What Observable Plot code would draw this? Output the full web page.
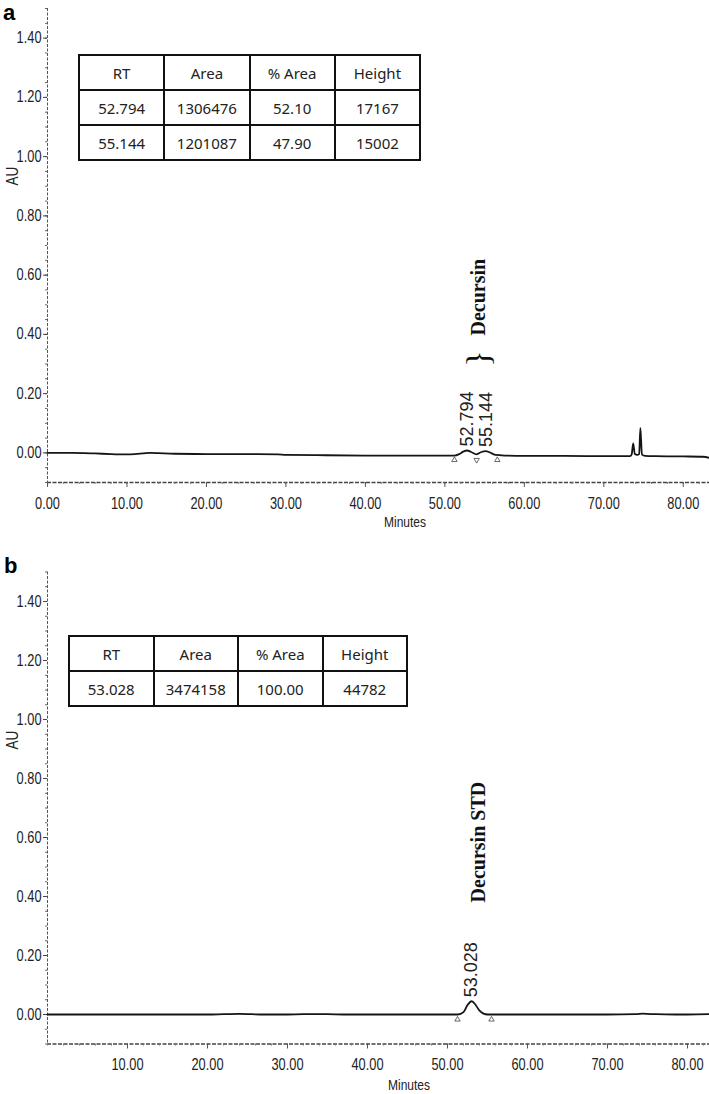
<!DOCTYPE html>
<html>
<head>
<meta charset="utf-8">
<script src="https://cdn.jsdelivr.net/npm/d3@7"></script>
<script src="https://cdn.jsdelivr.net/npm/@observablehq/plot@0.6"></script>
<style>
html,body{margin:0;padding:0;background:#fff;}
#wrap{position:relative;width:709px;height:1094px;overflow:hidden;background:#fff;}
.panel{position:absolute;left:0;}
.letter{position:absolute;font:bold 22px "Liberation Sans",Arial,sans-serif;color:#000;line-height:26px;height:26px;}
.au{position:absolute;font:16px "Liberation Sans",Arial,sans-serif;color:#222;transform:translate(-50%,-50%) rotate(-90deg) scale(0.85,1);white-space:nowrap;}
.minutes{position:absolute;font:15px "Liberation Sans",Arial,sans-serif;color:#222;transform:translate(-50%,-50%) scale(0.8,1);white-space:nowrap;}
table.res{position:absolute;border-collapse:collapse;font:15px "Noto Sans","Open Sans",sans-serif;color:#222;table-layout:fixed;}
table.res td{border:2px solid #111;text-align:center;padding:0;}
g[aria-label="peak-label"] text{letter-spacing:2px;}
</style>
</head>
<body>
<div id="wrap"></div>
<script>
// ---------- data ----------
// Panel a: sample chromatogram (time in minutes, absorbance in AU)
const timeA = [0, 3, 6, 8, 10, 11, 12, 13, 14, 16, 20, 25, 29, 30, 35, 40, 45, 50, 51.2, 51.8, 52.3, 52.794, 53.3, 54.0, 54.6, 55.144, 55.7, 56.4, 57.5, 60, 65, 70, 73.3, 73.5, 73.7, 73.9, 74.2, 74.45, 74.6, 74.8, 75.2, 76.5, 80, 82.5, 83.3];
const auA   = [0.000, 0.000, -0.002, -0.004, -0.005, -0.004, -0.002, 0.000, -0.001, -0.003, -0.004, -0.004, -0.005, -0.007, -0.008, -0.009, -0.009, -0.009, -0.009, -0.004, 0.004, 0.008, 0.003, -0.005, 0.003, 0.006, 0.001, -0.007, -0.009, -0.010, -0.010, -0.011, -0.011, -0.006, 0.032, -0.004, -0.007, -0.004, 0.084, -0.006, -0.010, -0.011, -0.012, -0.013, -0.017];
// Panel b: decursin standard
const timeB = [0, 10, 20, 22, 24, 25.5, 27, 30, 32, 35, 37, 45, 51.3, 52.0, 52.5, 53.028, 53.5, 54.0, 54.5, 55.0, 60, 70, 73.5, 74.5, 75, 76, 78.5, 80, 82.75];
const auB   = [0.000, 0.000, 0.000, 0.001, 0.002, 0.001, 0.000, 0.000, 0.001, 0.001, 0.000, 0.000, 0.000, 0.008, 0.032, 0.045, 0.033, 0.013, 0.003, 0.000, 0.000, 0.000, 0.001, 0.003, 0.002, 0.001, 0.000, 0.000, 0.001];

// peak labels (retention times) and apex levels
const peakLabelsA = ["52.794", "55.144"];
const peakTimesA  = [52.794, 55.144];
const peakApexA   = [0.008, 0.006];
const peakLabelsB = ["53.028"];
const peakTimesB  = [53.028];
const peakApexB   = [0.045];

// integration markers (start / valley / end)
const markTimesA  = [51.2, 54.0, 56.6];
const markRotateA = [0, 180, 0];
const markLevelA  = -0.024;
const markTimesB  = [51.25, 55.5];
const markRotateB = [0, 0];
const markLevelB  = -0.017;

// compound annotations
const annotTextA  = ["Decursin"];
const annotTimeA  = [54.2];
const annotLevelA = [0.396];
const braceTimeA  = [54.2];
const braceLevelA = [0.318];
const annotTextB  = ["Decursin STD"];
const annotTimeB  = [53.9];
const annotLevelB = [0.380];

// axis ticks
const yTicks  = [0, 0.2, 0.4, 0.6, 0.8, 1.0, 1.2, 1.4];
const yMinor  = d3.range(-0.1, 1.501, 0.05);
const xTicksA = [0, 10, 20, 30, 40, 50, 60, 70, 80];
const xTicksB = [10, 20, 30, 40, 50, 60, 70, 80];
const xMinor  = d3.range(0, 83, 2);

// result tables
const tableHeader = ["RT", "Area", "% Area", "Height"];
const tableRowsA = [["52.794", "1306476", "52.10", "17167"], ["55.144", "1201087", "47.90", "15002"]];
const tableRowsB = [["53.028", "3474158", "100.00", "44782"]];

// ---------- drawing ----------
const sans = "'Liberation Sans',Arial,sans-serif";
const ink = "#222";

function chromatogram(cfg) {
  const trace = cfg.times.map((t, i) => ({t, v: cfg.values[i]}));
  const peaks = cfg.peakLabels.map((s, i) => ({s, t: cfg.peakTimes[i], v: cfg.peakApex[i]}));
  const marks = cfg.markTimes.map((t, i) => ({t, r: cfg.markRotate[i]}));
  const annots = cfg.annotText.map((s, i) => ({s, t: cfg.annotTime[i], v: cfg.annotLevel[i]}));
  const braces = (cfg.braceTime || []).map((t, i) => ({t, v: cfg.braceLevel[i]}));
  const svg = Plot.plot({
    width: 709,
    height: 547,
    marginLeft: cfg.marginLeft,
    marginRight: 0,
    marginTop: cfg.marginTop,
    marginBottom: cfg.marginBottom,
    style: {fontFamily: sans, fontSize: "16px", color: ink, background: "#fff", overflow: "visible"},
    x: {domain: [0, cfg.xMax], label: null},
    y: {domain: [-0.1, 1.5], label: null},
    marks: [
      // axis lines (dotted, as in the scanned chromatogram)
      Plot.ruleX([0], {stroke: "#555", strokeWidth: 1, strokeDasharray: "3,1.5"}),
      Plot.ruleY([-0.1], {stroke: "#444", strokeWidth: 1.4, strokeDasharray: "4,1.5"}),
      Plot.axisY({ticks: yMinor, tickSize: 2, text: null, stroke: "#666", label: null}),
      Plot.axisY({ticks: yTicks, tickSize: 4, tickPadding: 2, tickFormat: d3.format(".2f"), stroke: "#444", fill: ink, fontSize: 16, label: null}),
      Plot.axisX({ticks: xMinor, tickSize: 2, text: null, stroke: "#777", label: null}),
      Plot.axisX({ticks: cfg.xTicks, tickSize: 5, tickPadding: 10, tickFormat: d3.format(".2f"), stroke: "#555", fill: ink, fontSize: 16, label: null}),
      // trace
      Plot.line(trace, {x: "t", y: "v", stroke: "#151515", strokeWidth: 1.8, curve: "monotone-x"}),
      // integration markers
      Plot.dot(marks, {x: "t", y: () => cfg.markLevel, symbol: "triangle", r: 2, rotate: "r", stroke: "#444", strokeWidth: 0.8, fill: "none"}),
      // retention time labels
      Plot.text(peaks, {x: "t", y: "v", text: "s", rotate: -90, textAnchor: "start", dy: -4, fontSize: 18, fontFamily: sans, fill: ink, ariaLabel: "peak-label"}),
      // braces and compound names
      Plot.text(braces, {x: "t", y: "v", text: () => "}", rotate: -90, fontSize: 34, fontFamily: "'Liberation Serif','Times New Roman',serif", fill: "#111"}),
      Plot.text(annots, {x: "t", y: "v", text: "s", rotate: -90, textAnchor: "start", fontSize: 20, fontWeight: "bold", fontFamily: "'Liberation Serif','Times New Roman',serif", fill: "#111"})
    ]
  });
  // condensed look of the instrument's tick-label font
  svg.querySelectorAll('g[aria-label="x-axis tick label"] text, g[aria-label="y-axis tick label"] text').forEach(t => {
    const tr = t.getAttribute("transform") || "";
    t.setAttribute("transform", tr + " scale(0.8,1)");
  });
  return svg;
}

const wrap = document.getElementById("wrap");

function place(node, top) {
  node.classList.add("panel");
  node.style.top = top + "px";
  wrap.appendChild(node);
}

place(chromatogram({
  times: timeA, values: auA, xTicks: xTicksA, xMax: 83.3,
  marginLeft: 47, marginTop: 8, marginBottom: 65,
  peakLabels: peakLabelsA, peakTimes: peakTimesA, peakApex: peakApexA,
  markTimes: markTimesA, markRotate: markRotateA, markLevel: markLevelA,
  annotText: annotTextA, annotTime: annotTimeA, annotLevel: annotLevelA,
  braceTime: braceTimeA, braceLevel: braceLevelA
}), 0);

place(chromatogram({
  times: timeB, values: auB, xTicks: xTicksB, xMax: 82.75,
  marginLeft: 47, marginTop: 24.5, marginBottom: 50.5,
  peakLabels: peakLabelsB, peakTimes: peakTimesB, peakApex: peakApexB,
  markTimes: markTimesB, markRotate: markRotateB, markLevel: markLevelB,
  annotText: annotTextB, annotTime: annotTimeB, annotLevel: annotLevelB
}), 547);

function addDiv(cls, text, left, top) {
  const d = document.createElement("div");
  d.className = cls;
  d.textContent = text;
  d.style.left = left + "px";
  d.style.top = top + "px";
  wrap.appendChild(d);
}
addDiv("letter", "a", 3, 0);
addDiv("letter", "b", 4, 553);
addDiv("au", "AU", 13, 176);
addDiv("au", "AU", 13, 740);
addDiv("minutes", "Minutes", 405, 521);
addDiv("minutes", "Minutes", 409, 1084);

function addTable(rows, left, top, width, rowH) {
  const t = document.createElement("table");
  t.className = "res";
  t.style.left = left + "px";
  t.style.top = top + "px";
  t.style.width = width + "px";
  [tableHeader, ...rows].forEach(r => {
    const tr = document.createElement("tr");
    tr.style.height = rowH + "px";
    r.forEach(c => { const td = document.createElement("td"); td.textContent = c; tr.appendChild(td); });
    t.appendChild(tr);
  });
  wrap.appendChild(t);
}
addTable(tableRowsA, 78, 54, 343, 35);
addTable(tableRowsB, 68, 635, 340, 35);
</script>
</body>
</html>
